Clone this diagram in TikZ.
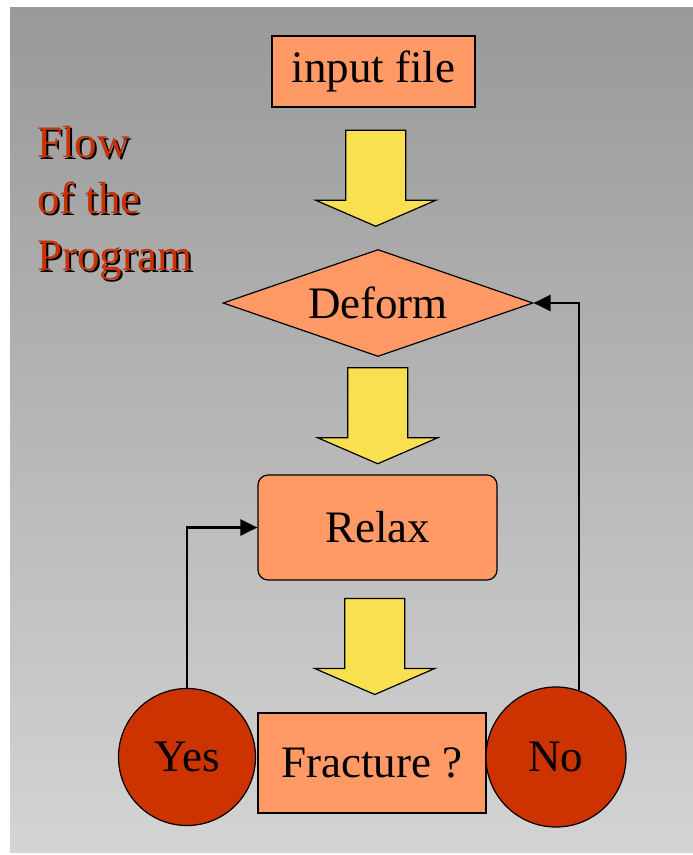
\documentclass[tikz,border=0pt]{standalone}
\usepackage{fontspec}
\setmainfont{Liberation Serif}
\usepackage{xcolor}
\usetikzlibrary{shapes.geometric,arrows.meta,calc}
\definecolor{boxfill}{RGB}{255,153,102}
\definecolor{answerfill}{RGB}{204,51,0}
\definecolor{arrowfill}{RGB}{248,224,80}
\definecolor{titlered}{RGB}{200,50,5}
\tikzstyle{box}=[rectangle,draw,fill=boxfill,line width=1.2pt,inner sep=0pt,font=\fontsize{45}{54}\selectfont]
\tikzstyle{answer}=[circle,draw,fill=answerfill,line width=1.2pt,inner sep=0pt,font=\fontsize{45}{54}\selectfont]
\tikzstyle{bigarrow}=[draw,fill=arrowfill,line width=1.2pt,line join=miter]
\tikzstyle{title}=[text=titlered,anchor=base west,inner sep=0pt,font=\fontsize{45}{54}\selectfont]
\tikzstyle{connector}=[line width=2.5pt,->,>={Triangle[length=17pt,width=16pt]}]
\newcommand\shadowed[1]{\makebox[0pt][l]{\hspace{2pt}\raisebox{-2pt}{\color{black}#1}}#1}
\newcommand\flowarrow[2]{%
  \coordinate (mid) at ($(#1.south)!0.5!(#2.north)$);
  \draw[bigarrow] ($(mid)+(-30,-48)$) -- ($(mid)+(30,-48)$) -- ($(mid)+(30,22)$) -- ($(mid)+(60,22)$)
    -- ($(mid)+(0,48)$) -- ($(mid)+(-60,22)$) -- ($(mid)+(-30,22)$) -- cycle;}

\begin{document}
\begin{tikzpicture}[x=1pt,y=-1pt]
      \useasboundingbox (0,0) rectangle (693,855);
      \shade [top color=black!40,bottom color=black!17] (10,7) rectangle (693,852);
      \node[title] (flow) at (37,157) {\shadowed{Flow}};
      \node[title] (ofthe) at (37,213) {\shadowed{of the}};
      \node[title] (program) at (37,270) {\shadowed{Program}};
      \node[box,minimum width=203,minimum height=71] (input) at (373.5,71.5) {input file};
      \node[box,diamond,aspect=2.9,minimum width=310,minimum height=107] (deform) at (378,303) {Deform};
      \node[box,rounded corners=10pt,minimum width=239,minimum height=105] (relax) at (377.5,527.5) {Relax};
      \node[box,minimum width=228,minimum height=100] (fracture) at (372,763) {Fracture ?};
      \node[answer,minimum size=137] (yes) at (187,757) {Yes};
      \node[answer,minimum size=140] (no) at (556,757) {No};
      \flowarrow{input}{deform}
      \flowarrow{deform}{relax}
      \flowarrow{relax}{fracture}
      \draw [connector] (yes.north) |- (relax.west);
      \draw [connector] (no.71) |- (deform.east);
\end{tikzpicture}
\end{document}
